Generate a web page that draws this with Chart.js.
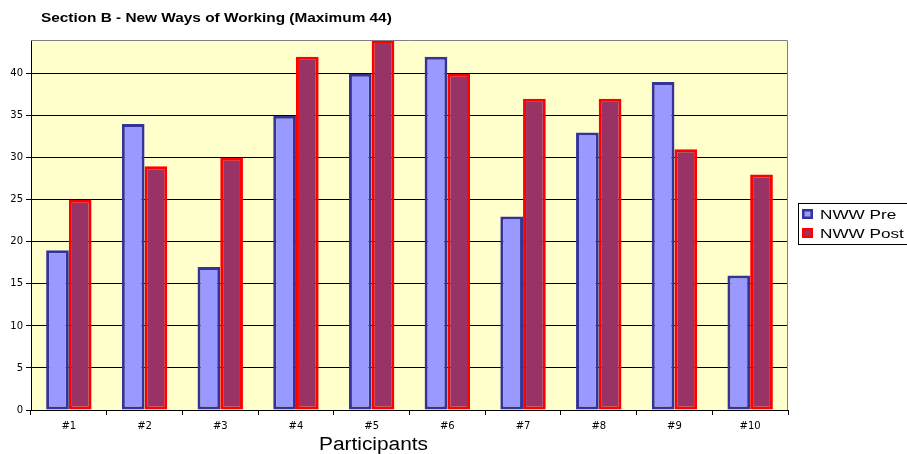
<!DOCTYPE html>
<html>
<head>
<meta charset="utf-8">
<script src="https://cdn.jsdelivr.net/npm/chart.js@4.4.1/dist/chart.umd.min.js"></script>
<style>
  html, body { margin: 0; padding: 0; background: #ffffff; }
  #wrap { width: 907px; height: 454px; position: relative; }
</style>
</head>
<body>
<div id="wrap"><canvas id="c" width="907" height="454"></canvas></div>
<script>
// Scores per participant, before and after
const participants = ['#1', '#2', '#3', '#4', '#5', '#6', '#7', '#8', '#9', '#10'];
const nwwPre  = [19, 34, 17, 35, 40, 42, 23, 33, 39, 16];
const nwwPost = [25, 29, 30, 42, 44, 40, 37, 37, 31, 28];
const yMax = 44;
const yStep = 5;

const chartTitle = 'Section B - New Ways of Working (Maximum 44)';
const xTitle = 'Participants';

const FONT = '"Liberation Sans", Arial, sans-serif';
const TICK_FONT = '"DejaVu Sans", sans-serif';

// Text drawn with a horizontal stretch (wide rendering of the labels)
function wideText(ctx, text, x, y, sx, align) {
  ctx.save();
  ctx.translate(x, y);
  ctx.scale(sx, 1);
  ctx.textAlign = align;
  ctx.textBaseline = 'alphabetic';
  ctx.fillText(text, 0, 0);
  ctx.restore();
}

// Pale plot background, grey frame, title, axis title and boxed legend
const decorations = {
  id: 'decorations',
  beforeDraw(chart) {
    const { ctx, chartArea: a } = chart;
    ctx.save();
    ctx.fillStyle = '#FFFFCC';
    ctx.fillRect(a.left, a.top, a.right - a.left, a.bottom - a.top);
    ctx.restore();
  },
  afterDraw(chart) {
    const { ctx, chartArea: a } = chart;
    ctx.save();
    // frame on top and right
    ctx.strokeStyle = '#808080';
    ctx.lineWidth = 1;
    ctx.beginPath();
    ctx.moveTo(a.left, a.top + 0.5);
    ctx.lineTo(a.right - 0.5, a.top + 0.5);
    ctx.lineTo(a.right - 0.5, a.bottom);
    ctx.stroke();

    // chart title
    ctx.fillStyle = '#000000';
    ctx.font = 'bold 12px ' + FONT;
    wideText(ctx, chartTitle, 41, 22, 1.28, 'left');

    // x axis title
    ctx.font = '18px ' + FONT;
    wideText(ctx, xTitle, 373.5, 450, 1.16, 'center');

    // legend
    const lx = 798, ly = 203, lw = 130, lh = 41;
    ctx.strokeStyle = '#000000';
    ctx.lineWidth = 1;
    ctx.strokeRect(lx + 0.5, ly + 0.5, lw, lh);
    const items = [
      { label: chart.data.datasets[0].label, fill: '#9999FF', stroke: '#333399' },
      { label: chart.data.datasets[1].label, fill: '#993366', stroke: '#FF0000' }
    ];
    ctx.font = '13px ' + FONT;
    items.forEach((it, i) => {
      const y = ly + 6 + i * 19;
      ctx.fillStyle = it.stroke;
      ctx.fillRect(lx + 4, y, 11, 10);
      ctx.fillStyle = it.fill;
      ctx.fillRect(lx + 6.5, y + 2.5, 6, 5);
      ctx.fillStyle = '#000000';
      wideText(ctx, it.label, lx + 22, y + 10, 1.32, 'left');
    });
    ctx.restore();
  }
};

new Chart(document.getElementById('c'), {
  type: 'bar',
  data: {
    labels: participants,
    datasets: [
      {
        label: 'NWW Pre',
        data: nwwPre,
        backgroundColor: '#9999FF',
        borderColor: '#333399',
        borderWidth: 3,
        borderSkipped: false
      },
      {
        label: 'NWW Post',
        data: nwwPost,
        backgroundColor: '#993366',
        borderColor: '#FF0000',
        borderWidth: 3,
        borderSkipped: false
      }
    ]
  },
  options: {
    responsive: false,
    animation: false,
    devicePixelRatio: 1,
    layout: { padding: { top: 40, right: 119, left: 0, bottom: 0 } },
    datasets: { bar: { categoryPercentage: 0.6, barPercentage: 1.0 } },
    plugins: {
      legend: { display: false },
      title: { display: false },
      tooltip: { enabled: false }
    },
    scales: {
      x: {
        grid: {
          offset: true,
          drawOnChartArea: false,
          drawTicks: true,
          tickLength: 5,
          color: '#000000'
        },
        border: { color: '#000000', width: 1 },
        ticks: {
          color: '#000000',
          font: { family: TICK_FONT, size: 10 },
          padding: 5,
          maxRotation: 0
        },
        afterFit(scale) { scale.height = 44; }
      },
      y: {
        min: 0,
        max: yMax,
        grid: {
          color: '#000000',
          drawTicks: true,
          tickLength: 5,
          lineWidth: 1
        },
        border: { color: '#000000', width: 1 },
        ticks: {
          stepSize: yStep,
          includeBounds: false,
          color: '#000000',
          font: { family: TICK_FONT, size: 10 },
          padding: 3
        },
        afterFit(scale) { scale.width = 31; }
      }
    }
  },
  plugins: [decorations]
});
</script>
</body>
</html>
